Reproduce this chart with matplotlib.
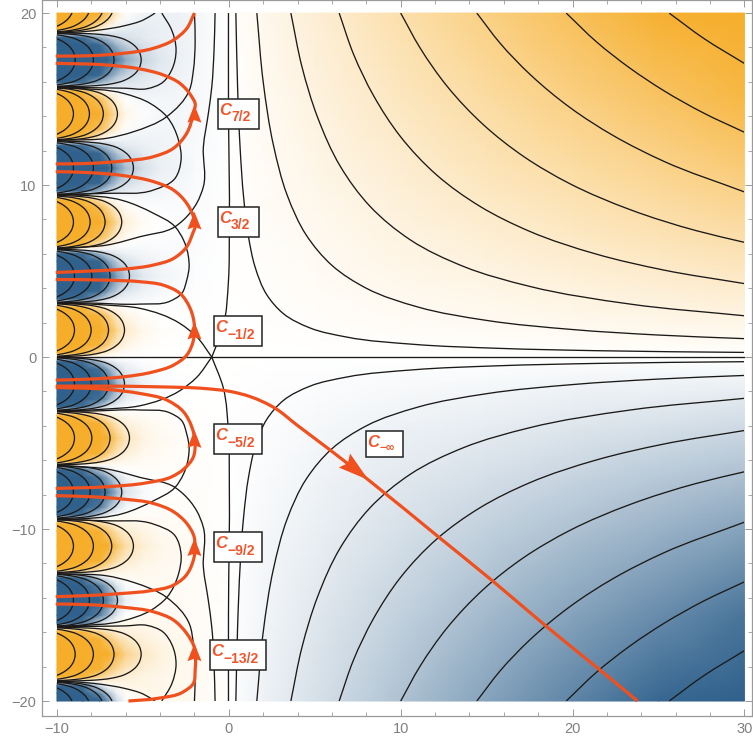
import numpy as np
import matplotlib
matplotlib.use("Agg")
import matplotlib.pyplot as plt
from matplotlib.colors import LinearSegmentedColormap
from matplotlib.path import Path
from matplotlib.patches import PathPatch, Polygon, Rectangle

plt.rcParams['font.family'] = ['Liberation Sans', 'DejaVu Sans']

# ---- shading, upper half; the picture is mirror-antisymmetric in y
shade_x_left = [-10, -8.5, -7.5, -7, -6.5, -6, -5, -4, -3, -2]
shade_y_left = [0, .25, .7, 1.57, 2.44, 2.89, 3.14, 3.39, 3.84, 4.71, 5.58, 6.03, 6.28, 6.53, 6.98, 7.85, 8.72, 9.17,
                9.42, 9.67, 10.12, 10.99, 11.86, 12.31, 12.57, 12.82, 13.27, 14.14, 15.01, 15.46, 15.71, 15.96,
                16.41, 17.28, 18.15, 18.6, 18.85, 19.1, 19.55, 20]
shade_left = [
    [0, 0, 0, 0, 0, 0, 0, 0, 0, 0],
    [1, .9, .35, .15, .07, .04, .01, 0, 0, 0],
    [1, 1, .9, .55, .25, .12, .04, .01, 0, 0],
    [1, 1, 1, .9, .5, .25, .08, .03, .01, 0],
    [1, 1, .9, .55, .25, .11, .03, 0, -.005, -.005],
    [1, .9, .35, .13, .05, .02, 0, -.01, -.01, -.005],
    [0, 0, -.02, -.03, -.03, -.03, -.02, -.02, -.012, -.008],
    [-1, -.9, -.4, -.2, -.1, -.07, -.04, -.025, -.015, -.01],
    [-1, -1, -.95, -.6, -.3, -.17, -.08, -.04, -.02, -.012],
    [-1, -1, -1, -.95, -.6, -.33, -.14, -.07, -.04, -.02],
    [-1, -1, -.95, -.6, -.3, -.18, -.09, -.05, -.03, -.016],
    [-1, -.9, -.4, -.2, -.12, -.08, -.05, -.035, -.025, -.016],
    [0, 0, -.04, -.05, -.05, -.05, -.04, -.03, -.025, -.016],
    [1, .9, .3, .1, .02, -.01, -.03, -.03, -.025, -.018],
    [1, 1, .85, .5, .2, .07, 0, -.015, -.02, -.018],
    [1, 1, 1, .85, .45, .18, .04, 0, -.015, -.018],
    [1, 1, .85, .45, .18, .05, -.01, -.02, -.025, -.02],
    [1, .9, .3, .08, 0, -.02, -.04, -.04, -.03, -.024],
    [0, 0, -.05, -.07, -.07, -.07, -.06, -.05, -.035, -.025],
    [-1, -.9, -.45, -.25, -.15, -.11, -.08, -.055, -.04, -.026],
    [-1, -1, -.95, -.65, -.35, -.22, -.12, -.07, -.05, -.03],
    [-1, -1, -1, -1, -.7, -.42, -.2, -.1, -.07, -.04],
    [-1, -1, -.95, -.65, -.36, -.23, -.13, -.08, -.055, -.035],
    [-1, -.9, -.45, -.27, -.17, -.13, -.09, -.065, -.05, -.032],
    [0, 0, -.08, -.1, -.1, -.1, -.08, -.065, -.05, -.034],
    [1, .9, .25, .05, -.03, -.06, -.07, -.065, -.05, -.035],
    [1, 1, .8, .45, .15, .02, -.04, -.055, -.05, -.035],
    [1, 1, 1, .75, .35, .1, -.01, -.045, -.05, -.035],
    [1, 1, .8, .42, .13, 0, -.05, -.06, -.055, -.04],
    [1, .9, .25, .03, -.05, -.08, -.09, -.075, -.06, -.04],
    [0, 0, -.1, -.13, -.14, -.13, -.11, -.085, -.065, -.04],
    [-1, -.9, -.5, -.3, -.2, -.16, -.12, -.09, -.07, -.045],
    [-1, -1, -.95, -.7, -.42, -.28, -.17, -.11, -.08, -.05],
    [-1, -1, -1, -1, -.85, -.55, -.28, -.15, -.1, -.055],
    [-1, -1, -.95, -.72, -.45, -.3, -.18, -.12, -.09, -.055],
    [-1, -.9, -.5, -.32, -.22, -.18, -.13, -.1, -.08, -.055],
    [0, 0, -.12, -.15, -.16, -.15, -.13, -.1, -.08, -.055],
    [1, .9, .2, 0, -.08, -.11, -.12, -.1, -.08, -.055],
    [1, 1, .75, .38, .08, -.04, -.1, -.09, -.08, -.055],
    [1, 1, 1, .65, .22, .03, -.07, -.09, -.08, -.055],
]
shade_x_right = [-2, 0, 1, 2, 5, 10, 15, 20, 25, 30]
shade_y_right = [0, 1, 2, 4, 7, 10, 15, 20]
shade_right = [
    [0, 0, 0, 0, 0, 0, 0, 0, 0, 0],
    [0, 0, .002, .004, .01, .02, .03, .04, .05, .06],
    [-.005, 0, .004, .008, .02, .04, .06, .08, .1, .115],
    [-.012, 0, .008, .015, .04, .08, .115, .155, .19, .23],
    [-.018, 0, .013, .027, .07, .135, .2, .27, .34, .4],
    [-.028, 0, .02, .04, .1, .19, .29, .385, .48, .58],
    [-.04, 0, .03, .06, .145, .29, .43, .58, .72, .87],
    [-.055, 0, .04, .08, .19, .385, .58, .77, .96, 1.0],
]

# ---- nested contour arcs in each lobe: (y low, y high, apex x values)
lobe_low = [0, 3.14, 6.28, 9.42, 12.57, 15.71, 18.85]
lobe_high = [3.14, 6.28, 9.42, 12.57, 15.71, 18.85, 21.99]
lobe_apex = [
    [-8.98, -8.01, -7.0, -6.07],
    [-8.98, -7.97, -6.91, -5.78],
    [-9.04, -8.07, -7.2, -6.23],
    [-9.04, -7.88, -6.81, -5.55],
    [-9.04, -8.11, -7.3, -6.48],
    [-8.94, -7.88, -6.68, -5.10],
    [-9.04, -8.07, -7.29, -6.71],
]
# outline of one arc read from the lobes: x behind apex, y above lobe floor
arc_dx = [-6, -4, -3, -2.3, -1.6, -1.0, -.6, -.3, -.1, 0]
arc_dy = [.0025, .018, .05, .1, .2, .37, .58, .83, 1.13, 1.57]

# ---- long contours, upper half (x list, y list); each is also seen mirrored below y = 0
contours_upper = [
    ([-4.29, -4.97, -6.13, -7.49, -9.04, -10], [20, 19.6, 19.25, 19.02, 18.88, 18.84]),
    ([-3.9, -3.32, -3.07, -3.32, -3.81, -4.77, -6, -8, -10], [20, 19, 17.85, 16.7, 16, 15.6, 15.63, 15.66, 15.69]),
    ([-10, -9.04, -6.13, -4.58, -3.61, -2.93, -2.78, -3.13, -4.39, -7.1, -10],
     [15.64, 15.62, 15.33, 14.75, 13.98, 12.62, 11.46, 10.39, 9.71, 9.52, 9.46]),
    ([-10, -9.04, -7.1, -5.55, -3.61, -2.29, -2.06, -1.96, -2.0],
     [12.62, 12.62, 12.72, 13.1, 13.98, 15.53, 16.69, 18.24, 20]),
    ([-.8, -.86, -.99, -1.19, -1.48, -1.48, -1.87, -2.64, -3.13, -5.16, -7.1, -9.04, -10],
     [20, 17.85, 15.72, 14.17, 12.23, 9.91, 8.94, 7.97, 7.58, 7.0, 6.51, 6.37, 6.33]),
    ([-10, -9.04, -6.13, -4.39, -3.13, -2.64, -2.35, -2.31, -2.45, -2.74, -3.42, -5.16, -8.07, -10],
     [9.44, 9.42, 9.09, 8.36, 7.58, 6.81, 5.83, 5.25, 4.47, 3.7, 3.25, 3.08, 3.14, 3.16]),
    ([-10, -9.04, -7.1, -5.16, -2.84, -1.87, -.99], [3.14, 3.12, 3.02, 2.83, 1.95, 1.18, 0]),
    ([-.99, -.33, -.02, .03, -.02, -.02], [0, 1.76, 4.47, 7.38, 14.9, 20]),
    ([.41, .51, .66, .86, 1.15, 1.53, 2.21, 3.18, 4.73, 6.87, 10.75, 15.6, 21.4, 30],
     [20, 15.7, 12.1, 9.3, 6.96, 5.23, 3.62, 2.52, 1.69, 1.16, .74, .51, .37, .27]),
    ([1.63, 2, 2.6, 3.4, 4.5, 6, 8, 11, 15, 20, 25, 30],
     [20, 16, 12.3, 9.4, 7.1, 5.33, 4, 2.91, 2.13, 1.6, 1.28, 1.07]),
    ([3.61, 4.25, 5.16, 6.48, 8.2, 10.55, 13.65, 17.5, 23.35, 30],
     [20, 16.9, 13.95, 11.1, 8.78, 6.82, 5.27, 4.11, 3.08, 2.4]),
    ([6.42, 7.26, 8.42, 9.97, 12.1, 14.6, 17.5, 21.4, 25.3, 30],
     [20, 17.6, 15.2, 12.84, 10.58, 8.77, 7.31, 5.98, 5.06, 4.27]),
    ([10, 11.13, 12.68, 14.82, 17.14, 19.86, 23.35, 27.23, 30],
     [20, 17.97, 15.77, 13.5, 11.67, 10.07, 8.57, 7.34, 6.67]),
    ([14.43, 15.79, 17.53, 19.86, 22.38, 25.29, 30], [20, 18.24, 16.43, 14.5, 12.87, 11.39, 9.6]),
    ([19.63, 21.41, 23.35, 25.29, 27.6, 30], [20, 18.31, 16.79, 15.5, 14.2, 13.07]),
    ([25.62, 27.6, 30], [20, 18.55, 17.07]),
]

# ---- orange integration paths
paths_orange = [
    ([-10.07, -8.07, -6.13, -4.39, -3.22, -2.45, -2.0], [17.5, 17.52, 17.66, 17.95, 18.43, 19.1, 20]),
    ([-10.07, -8.07, -6.13, -4.39, -3.22, -2.45, -2.06, -1.96, -2.16, -2.84, -3.81, -5.16, -7.1, -10.07],
     [11.23, 11.26, 11.4, 11.65, 12.14, 13.01, 14.17, 14.75, 15.14, 15.91, 16.4, 16.75, 16.98, 17.08]),
    ([-10.07, -8.07, -6.13, -4.39, -3.22, -2.45, -2.1, -1.96, -2.06, -2.45, -3.22, -4.39, -6.13, -8.07, -10.07],
     [4.92, 5.0, 5.11, 5.35, 5.73, 6.41, 7.19, 7.58, 8.16, 8.94, 9.71, 10.2, 10.55, 10.72, 10.78]),
    ([-10.07, -8.07, -6.13, -4.39, -3.22, -2.45, -2.06, -2, -2.25, -2.84, -3.81, -5.16, -7.1, -10.07],
     [-1.34, -1.28, -1.15, -.86, -.47, .11, .98, 1.76, 2.83, 3.7, 4.18, 4.38, 4.47, 4.51]),
    ([-10.07, -7.1, -5.16, -3.61, -2.64, -2.16, -1.96, -2.06, -2.64, -3.32, -4.77, -7.1, -10.07],
     [-1.77, -1.88, -2.12, -2.5, -3.18, -4.05, -5.02, -5.8, -6.53, -6.96, -7.31, -7.54, -7.64]),
    ([-10.07, -8.07, -6.13, -4.39, -3.22, -2.45, -2.02, -1.96, -2.06, -2.55, -3.22, -4.58, -6.13, -8.07, -10.07],
     [-8.06, -8.12, -8.26, -8.51, -8.99, -9.67, -10.45, -11.03, -11.8, -12.77, -13.26, -13.59, -13.74, -13.86, -13.93]),
    ([-10.07, -8.07, -6.13, -4.39, -3.22, -2.45, -2.02, -1.96, -2.06, -2.64, -4.19, -5.84],
     [-14.36, -14.4, -14.55, -14.81, -15.29, -16.07, -16.84, -18.2, -18.97, -19.46, -19.85, -20]),
    ([-10.07, -7.1, -4.19, -1.28, .08, 1.24, 2.7, 3.96, 5.9, 8.13, 12.3, 15.4, 18.5, 21.6, 23.78],
     [-1.69, -1.69, -1.73, -1.84, -2.0, -2.3, -2.98, -3.95, -5.41, -7.15, -10.54, -13.06, -15.68, -18.2, -20]),
]
arrow_tip_x = [-2, -2, -2, -2, -2, -2, 8.13]
arrow_tip_y = [14.66, 8.45, 2.05, -4.25, -10.54, -16.65, -7.15]
arrow_dir_x = [0, 0, 0, 0, 0, 0, .78]
arrow_dir_y = [1, 1, 1, 1, 1, 1, -.63]
arrow_len = [1.03, 1.03, 1.03, 1.03, 1.03, 1.03, 1.8]
arrow_halfw = [.41, .41, .41, .41, .41, .41, .52]

# ---- labels
label_sub = ['7/2', '3/2', '\u22121/2', '\u22125/2', '\u22129/2', '\u221213/2', '\u2212\u221e']
label_left = [-.64, -.64, -.84, -.84, -.84, -1.07, 7.98]
label_y = [14.13, 7.85, 1.51, -4.77, -11.05, -17.33, -5.05]
label_w = [2.42, 2.42, 2.79, 2.79, 2.79, 3.24, 2.13]
label_h = [1.74, 1.74, 1.74, 1.74, 1.74, 1.74, 1.49]

ticks_major_x = [-10, 0, 10, 20, 30]
ticks_major_y = [-20, -10, 0, 10, 20]

ORANGE = '#F0501E'
TEXT = '#F2552B'
LINE = '#1c1a18'
cmap = LinearSegmentedColormap.from_list('bw', ['#2F618C', '#FFFFFF', '#F6AE2A'])

W, H = 753, 742
fig = plt.figure(figsize=(W / 100, H / 100), dpi=100)
ax = fig.add_axes([42 / W, (H - 716) / H, 710 / W, 716 / H])
ax.set_xlim(-10.87, 30.44)
ax.set_ylim(-20.87, 20.76)


def mirrored(ys, table):
    ys = np.asarray(ys, float)
    table = np.asarray(table, float)
    return np.r_[-ys[:0:-1], ys], np.vstack([-table[:0:-1], table])


for xs, ys, table in [(shade_x_left, shade_y_left, shade_left), (shade_x_right, shade_y_right, shade_right)]:
    yy, cc = mirrored(ys, table)
    X, Y = np.meshgrid(xs, yy)
    ax.pcolormesh(X, Y, cc, shading='gouraud', cmap=cmap, vmin=-1, vmax=1, zorder=1, rasterized=True)


def curve(xs, ys):
    p = np.column_stack([xs, ys]).astype(float)
    seg = p[1:] - p[:-1]
    ln = np.maximum(np.linalg.norm(seg, axis=1, keepdims=True), 1e-9)
    unit = seg / ln
    t = np.zeros_like(p)
    t[0], t[-1] = unit[0], unit[-1]
    t[1:-1] = (unit[:-1] * ln[1:] + unit[1:] * ln[:-1])
    t /= np.maximum(np.linalg.norm(t, axis=1, keepdims=True), 1e-9)
    verts = [p[0]]
    codes = [Path.MOVETO]
    for i in range(len(p) - 1):
        L = ln[i, 0] / 3
        verts += [p[i] + t[i] * L, p[i + 1] - t[i + 1] * L, p[i + 1]]
        codes += [Path.CURVE4] * 3
    return Path(verts, codes)


plot_box = Rectangle((-10, -20), 40, 40, transform=ax.transData)


def draw_line(xs, ys, color=LINE, lw=0.95, z=3, clip=True):
    patch = PathPatch(curve(xs, ys), fc='none', ec=color, lw=lw, zorder=z, capstyle='butt')
    ax.add_patch(patch)
    if clip:
        patch.set_clip_path(plot_box)


for low, high, apexes in zip(lobe_low, lobe_high, lobe_apex):
    scale = (high - low) / np.pi
    dx = np.array(arc_dx)
    dy = np.array(arc_dy) * scale
    for a in apexes:
        xs = np.r_[a + dx, (a + dx)[-2::-1]]
        us = np.r_[low + dy, high - dy[-2::-1]]
        for sign in (1, -1):
            draw_line(xs, sign * us)

for xs, ys in contours_upper:
    draw_line(xs, ys)
    draw_line(xs, -np.array(ys))

ax.plot([-10, 30], [0, 0], color=LINE, lw=0.95, zorder=3)

for xs, ys in paths_orange:
    draw_line(xs, ys, color=ORANGE, lw=2.3, z=5, clip=False)

for tx, ty, ux, uy, ln, hw in zip(arrow_tip_x, arrow_tip_y, arrow_dir_x, arrow_dir_y, arrow_len, arrow_halfw):
    nx, ny = -uy, ux
    ax.add_patch(Polygon([(tx, ty), (tx - ux * ln + nx * hw, ty - uy * ln + ny * hw),
                          (tx - ux * ln * .86, ty - uy * ln * .86),
                          (tx - ux * ln - nx * hw, ty - uy * ln - ny * hw)],
                         closed=True, fc=ORANGE, ec='none', zorder=6))

for sub, left, yc, w, h in zip(label_sub, label_left, label_y, label_w, label_h):
    ax.add_patch(Rectangle((left, yc - h / 2), w, h, fc='white', ec='#222222', lw=1.1, zorder=7))
    infinite = '\u221e' in sub
    ax.text(left + .42, yc + (.08 if infinite else .21), 'C', color=TEXT, fontsize=12, fontweight='bold',
            fontstyle='italic', ha='center', va='center', zorder=8)
    ax.text(left + .76, yc - (.24 if infinite else .2), sub, color=TEXT, fontsize=8.5 if infinite else 10,
            fontweight='bold', ha='left', va='center', zorder=8)

for s in ax.spines.values():
    s.set_color('#9a9a9a')
    s.set_linewidth(0.9)
ax.set_xticks(ticks_major_x)
ax.set_yticks(ticks_major_y)
ax.set_xticks(np.arange(-10, 31, 2), minor=True)
ax.set_yticks(np.arange(-20, 21, 2), minor=True)
ax.tick_params(which='major', direction='in', length=5.2, width=0.7, color='#9a9a9a', labelcolor='#808080',
               labelsize=10.5, top=True, right=True, pad=4)
ax.tick_params(which='minor', direction='in', length=2.8, width=0.6, color='#9a9a9a', top=True, right=True)

fig.savefig('out.png', dpi=100)
